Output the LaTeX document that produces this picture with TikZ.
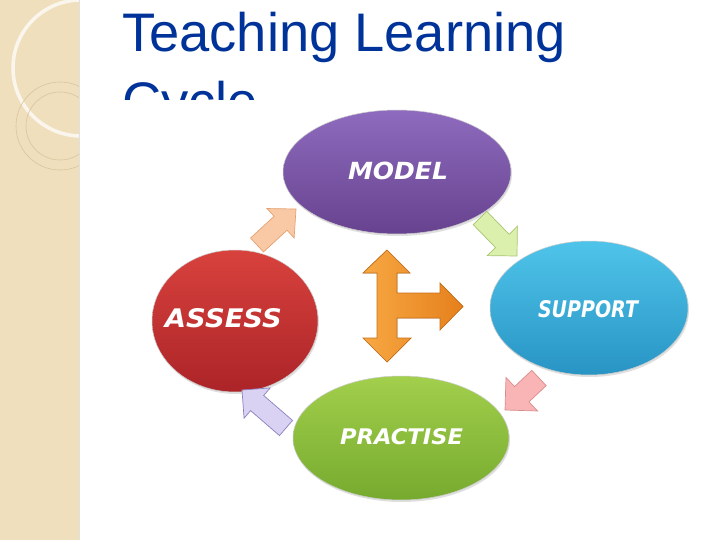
\documentclass[tikz,border=0pt]{standalone}
\usepackage{fontspec}
\newfontfamily\titlef{Liberation Sans}
\newfontfamily\labf{DejaVu Sans}
\usetikzlibrary{calc,shapes.geometric,shadows}
\definecolor{titleblue}{HTML}{003399}
\definecolor{band}{HTML}{EFDFBD}
\definecolor{bandlight}{HTML}{F5EBD6}
\definecolor{bandline}{HTML}{D9C59C}
\definecolor{modelT}{HTML}{8E6BBE}
\definecolor{modelB}{HTML}{67428F}
\definecolor{suppT}{HTML}{4FC4EA}
\definecolor{suppB}{HTML}{2894C4}
\definecolor{assT}{HTML}{D8423D}
\definecolor{assB}{HTML}{AC2428}
\definecolor{pracT}{HTML}{A2CF4C}
\definecolor{pracB}{HTML}{76AA2E}
\definecolor{orA}{HTML}{F7A843}
\definecolor{orB}{HTML}{E5801C}
\definecolor{orD}{HTML}{C8701A}
\definecolor{peachF}{HTML}{F9C9A5}
\definecolor{peachD}{HTML}{E6A171}
\definecolor{greenF}{HTML}{DCF0AE}
\definecolor{greenD}{HTML}{A6C66E}
\definecolor{pinkF}{HTML}{F9B5B5}
\definecolor{pinkD}{HTML}{D98C8C}
\definecolor{lavF}{HTML}{D9D2F2}
\definecolor{lavD}{HTML}{8E80BF}
\tikzset{
  cyc/.style={ellipse, inner sep=0pt, line width=0.5pt, draw=black!20,
    drop shadow={opacity=0.25, shadow xshift=1pt, shadow yshift=-2pt}},
  lab/.style={inner sep=0pt, anchor=base, text=white},
  ttl/.style={anchor=base west, inner sep=0pt, text=titleblue},
}
\newcommand\blockarr[7]{%
  \coordinate (ba-base) at ($(#4)!#7!(#3)$);
  \filldraw[fill=#1, draw=#2, line width=0.7pt, line join=miter]
    ($(#3)!#5!90:(#4)$) -- ($(ba-base)!#5!90:(#4)$) -- ($(ba-base)!#6!90:(#4)$)
    -- (#4) -- ($(ba-base)!#6!-90:(#4)$) -- ($(ba-base)!#5!-90:(#4)$)
    -- ($(#3)!#5!-90:(#4)$) -- cycle;}
\newcommand\labtext[1]{\labf\bfseries\itshape #1}
\newcommand\ttltext[1]{\titlef\fontsize{54.3}{60}\selectfont #1}
\begin{document}
\begin{tikzpicture}[x=1pt,y=-1pt]
\useasboundingbox (0,0) rectangle (720,540);
\fill[white] (0,0) rectangle (720,540);
% left band
\begin{scope}
\clip (0,0) rectangle (79,540);
\fill[band] (0,0) rectangle (79,540);
\fill[bandlight] (0,0) -- (63,0) arc[start angle=0, end angle=-90, radius=63] -- cycle;
\draw[bandline, line width=0.5pt] (63,0) arc[start angle=0, end angle=-90, radius=63];
\draw[white, opacity=0.75, line width=3.5pt] (81,68) circle[radius=68];
\draw[bandline, line width=0.6pt] (60,126) circle[radius=44];
\draw[bandline, line width=0.6pt] (60,126) circle[radius=34];
\end{scope}
\draw[black!12, line width=0.8pt] (79.5,0) -- (79.5,540);
% title
\node[ttl] (title) at (122,52) {\ttltext{Teaching Learning}};
\node[ttl] (title2) at (122,121) {\ttltext{Cycle}};
% picture area
\fill[white] (112,100) rectangle (705,540);
% ellipses
\node[cyc, minimum width=228pt, minimum height=124pt, top color=modelT, bottom color=modelB] (model) at (397,172) {};
\node[cyc, minimum width=198pt, minimum height=134pt, top color=suppT, bottom color=suppB] (support) at (589,308) {};
\node[cyc, minimum width=166pt, minimum height=142pt, top color=assT, bottom color=assB] (assess) at (235,321) {};
\node[cyc, minimum width=216pt, minimum height=124pt, top color=pracT, bottom color=pracB] (practise) at (401,438) {};
% labels
\node[lab] (lmodel) at (398,179.3) {\resizebox{100pt}{17.5pt}{\labtext{MODEL}}};
\node[lab] (lassess) at (223.5,327) {\resizebox{117pt}{19pt}{\labtext{ASSESS}}};
\node[lab] (lsupport) at (588,317) {\resizebox{100pt}{17pt}{\labtext{SUPPORT}}};
\node[lab] (lpractise) at (401.5,444) {\resizebox{123pt}{16pt}{\labtext{PRACTISE}}};
% cycle arrows
\coordinate (a1t) at (257,245); \coordinate (a1p) at (296,209);
\coordinate (a2t) at (480,218); \coordinate (a2p) at (517,256);
\coordinate (a3t) at (539,378); \coordinate (a3p) at (505,410);
\coordinate (a4t) at (286,428); \coordinate (a4p) at (242,390);
\blockarr{peachF}{peachD}{a1t}{a1p}{9.5pt}{20pt}{21pt}
\blockarr{greenF}{greenD}{a2t}{a2p}{9.5pt}{21pt}{21pt}
\blockarr{pinkF}{pinkD}{a3t}{a3p}{10.5pt}{23pt}{23pt}
\blockarr{lavF}{lavD}{a4t}{a4p}{10pt}{20pt}{20pt}
% centre arrow
\filldraw[left color=orA, right color=orB, draw=orD, line width=0.7pt, line join=miter]
  (387,250) -- (410,273) -- (397,273) -- (397,293) -- (440,293) -- (440,283)
  -- (463,306.5) -- (440,330) -- (440,318) -- (397,318) -- (397,338) -- (411,338)
  -- (387,362) -- (363,338) -- (377,338) -- (377,273) -- (363,273) -- cycle;
\end{tikzpicture}
\end{document}
